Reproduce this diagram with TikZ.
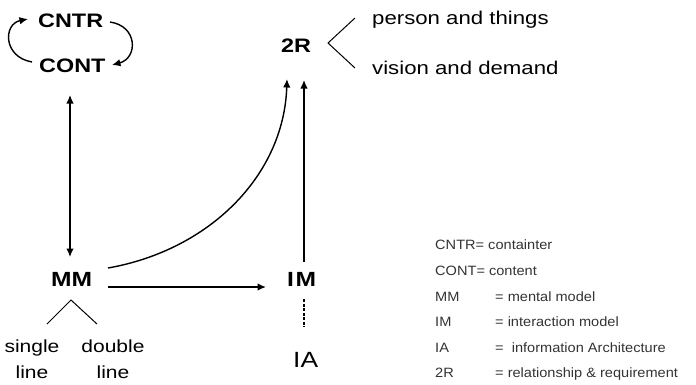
\documentclass[tikz,border=0pt]{standalone}
\usepackage{fontspec}
\setmainfont{Liberation Sans}[FakeStretch=1.2]
\newfontfamily\legfont{Liberation Sans}[FakeStretch=1.08]
\usetikzlibrary{arrows.meta}
\begin{document}
\begin{tikzpicture}[x=1pt,y=-1pt,
  lbl/.style={font=\fontsize{19.5}{21}\selectfont\bfseries, inner sep=0pt, anchor=base west},
  txt/.style={font=\fontsize{18.5}{20}\selectfont, inner sep=0pt, anchor=base west},
  sub/.style={font=\fontsize{17.5}{26}\selectfont, inner sep=0pt, align=center, anchor=base},
  leg/.style={font=\legfont\fontsize{13.5}{16}\selectfont, text=black!80, inner sep=0pt, anchor=base west},
  tipx/.tip={Latex[length=8.5pt,width=7.5pt]},
  arr/.style={line width=1.4pt, -tipx},
  darr/.style={line width=1.4pt, tipx-tipx},
  thin/.style={line width=1pt}]
\useasboundingbox (0,0) rectangle (696,384);

% top-left labels
\node[lbl] (cntr) at (38,27) {CNTR};
\node[lbl] (cont) at (39,72) {CONT};
\coordinate (la) at (32,62);
\coordinate (lb) at (28,19);
\coordinate (ra) at (110,22);
\coordinate (rb) at (112,65);
\draw[arr] (la) .. controls (3,57) and (3,24) .. (lb);
\draw[arr] (ra) .. controls (138,26) and (138,58) .. (rb);

% 2R
\node[lbl] (tworr) at (281,52) {2R};
\node[txt] (person) at (372,24) {person and things};
\node[txt] (vision) at (372,74) {vision and demand};
\coordinate (bu) at (355,18);
\coordinate (bv) at (328,43);
\coordinate (bl) at (355,68);
\draw[thin] (bu) -- (bv) -- (bl);

% MM, IM, IA
\node[lbl, font=\fontsize{20.5}{22}\selectfont\bfseries] (mm) at (51,286) {MM};
\node[lbl, font=\fontsize{20.5}{22}\selectfont\bfseries] (im) at (287,286) {I\kern1.5pt M};
\node[txt, font=\fontsize{22}{24}\selectfont] (ia) at (293,367) {IA};

% vertical double arrow CONT <-> MM
\draw[darr] (70,95) -- (70,257);

% MM -> IM
\coordinate (mmr) at (108,287);
\coordinate (iml) at (266,287);
\draw[arr] (mmr) -- (iml);

% MM -> 2R curve
\coordinate (mmc) at (108,268);
\coordinate (twc) at (287,79);
\draw[arr] (mmc) .. controls (210,250) and (284,175) .. (twc);

% IM -> 2R
\draw[arr] (304,262) -- (304,80);

% IM -- IA dashed
\draw[line width=1.3pt, dash pattern=on 3pt off 1.5pt] (304,299) -- (304,327);

% MM branches
\coordinate (apex) at (71,300);
\coordinate (bleft) at (47,324);
\coordinate (bright) at (97,324);
\draw[thin] (bleft) -- (apex) -- (bright);
\node[sub] (single) at (32,378) {single\\line};
\node[sub] (double) at (113,378) {double\\line};

% legend
\node[leg] (l1) at (435,249) {CNTR= containter};
\node[leg] (l2) at (435,275) {CONT= content};
\node[leg] (l3) at (435,301) {MM};
\node[leg] (l3b) at (495,301) {= mental model};
\node[leg] (l4) at (435,326) {IM};
\node[leg] (l4b) at (495,326) {= interaction model};
\node[leg] (l5) at (435,352) {IA};
\node[leg] (l5b) at (495,352) {=\ \ information Architecture};
\node[leg] (l6) at (435,377) {2R};
\node[leg] (l6b) at (495,377) {= relationship \& requirement};
\end{tikzpicture}
\end{document}
